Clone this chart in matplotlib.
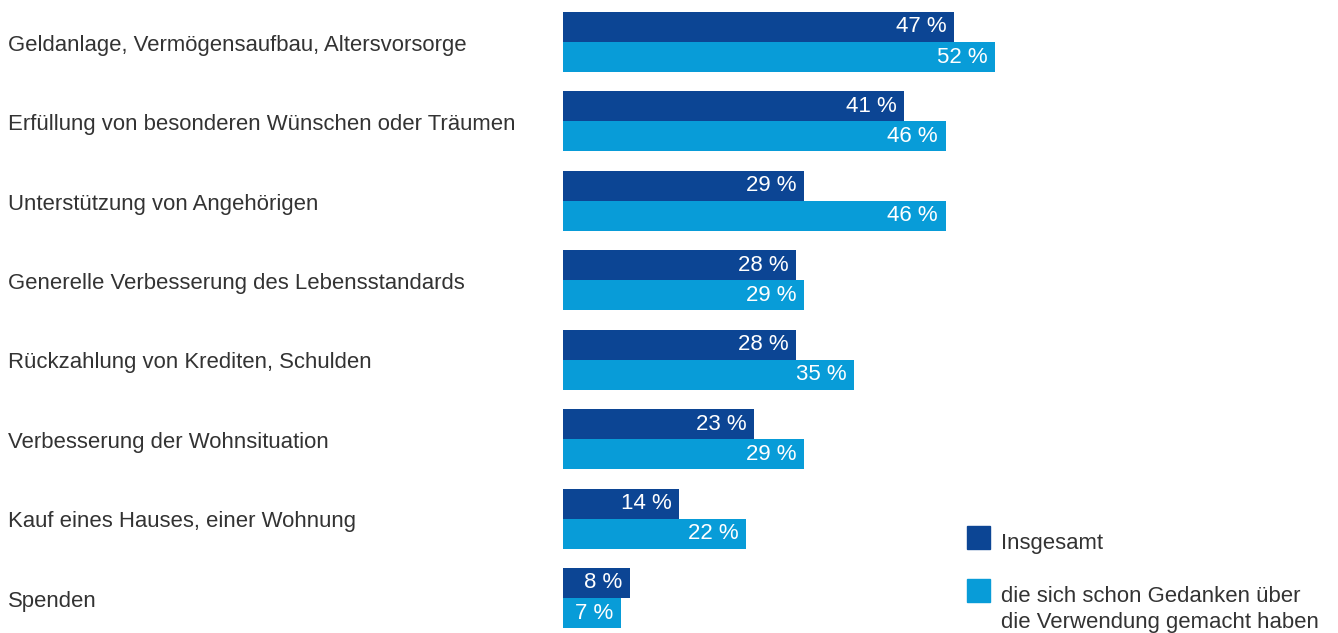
import matplotlib.pyplot as plt
from matplotlib.patches import Rectangle

categories = [
    "Geldanlage, Vermögensaufbau, Altersvorsorge",
    "Erfüllung von besonderen Wünschen oder Träumen",
    "Unterstützung von Angehörigen",
    "Generelle Verbesserung des Lebensstandards",
    "Rückzahlung von Krediten, Schulden",
    "Verbesserung der Wohnsituation",
    "Kauf eines Hauses, einer Wohnung",
    "Spenden",
]
insgesamt = [47, 41, 29, 28, 28, 23, 14, 8]
gedanken = [52, 46, 46, 29, 35, 29, 22, 7]
series_labels = ["Insgesamt", "die sich schon Gedanken über\ndie Verwendung gemacht haben"]

DARK = "#0C4594"
LIGHT = "#089CD8"
TEXT = "#333333"
BAR_H = 0.378
W, H = 1338, 633
LINE_PX = 26

plt.rcParams["font.family"] = ["Liberation Sans", "DejaVu Sans"]

fig = plt.figure(figsize=(W / 100, H / 100), dpi=100)
ax = fig.add_axes([563 / W, 0, 499 / W, 1])
ax.set_xlim(0, 60)
ax.set_ylim(7.4406, -0.5288)
ax.axis("off")

y = list(range(len(categories)))
ax.barh([i - BAR_H / 2 for i in y], insgesamt, height=BAR_H, color=DARK)
ax.barh([i + BAR_H / 2 for i in y], gedanken, height=BAR_H, color=LIGHT)

for i, (a, b) in enumerate(zip(insgesamt, gedanken)):
    ax.text(a - 0.9, i - BAR_H / 2, f"{a} %", color="white", fontsize=16,
            ha="right", va="center")
    ax.text(b - 0.9, i + BAR_H / 2, f"{b} %", color="white", fontsize=16,
            ha="right", va="center")
    ax.text(-555 / 8.317, i + 0.04, categories[i], color=TEXT, fontsize=15.9,
            ha="left", va="center", clip_on=False)

# legend drawn by hand so the square sits on the first text line
for sq_top, color, label in [(526, DARK, series_labels[0]), (579, LIGHT, series_labels[1])]:
    fig.add_artist(Rectangle((967 / W, 1 - (sq_top + 23) / H), 23 / W, 23 / H,
                             color=color, transform=fig.transFigure))
    last_base = sq_top + 23 + LINE_PX * label.count("\n")
    fig.text(1001 / W, 1 - last_base / H, label, color=TEXT, fontsize=15.9,
             ha="left", va="baseline", linespacing=1.3)

fig.savefig("out.png", dpi=100)
